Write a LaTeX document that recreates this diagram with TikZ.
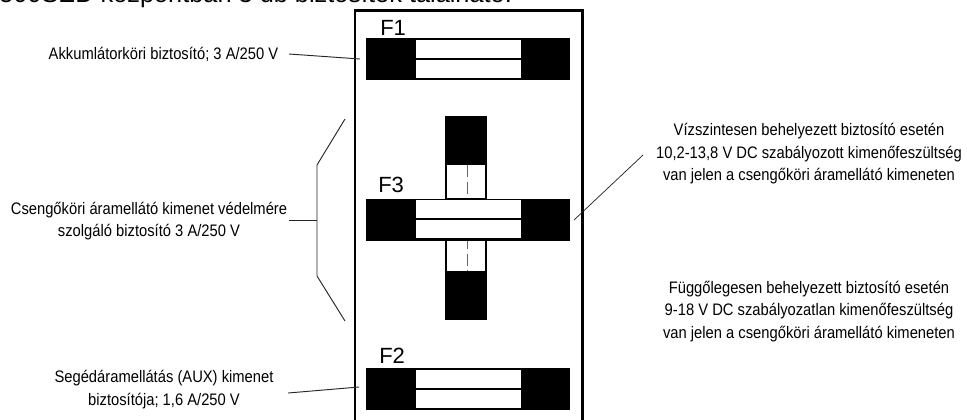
\documentclass[tikz,border=0pt]{standalone}
\usepackage{fontspec}
\setmainfont[FakeStretch=0.885]{Liberation Sans}
\newfontfamily\plainarial{Liberation Sans}
\tikzset{
  x=0.75pt,y=-0.75pt,
  blackpart/.style={fill=black,draw=none,inner sep=0pt,outer sep=0pt,minimum width=204*0.75pt,minimum height=42*0.75pt},
  uprightpart/.style={fill=black,draw=none,inner sep=0pt,outer sep=0pt,minimum width=42*0.75pt,minimum height=204*0.75pt},
  glass/.style={fill=white,draw=none,inner sep=0pt,outer sep=0pt,minimum width=105*0.75pt,minimum height=38.5*0.75pt},
  vglass/.style={fill=white,draw=none,inner sep=0pt,outer sep=0pt,minimum width=38.5*0.75pt},
  caption/.style={align=center,inner sep=0pt,font=\fontsize{12.5pt}{16.9pt}\selectfont},
  fuselabel/.style={inner sep=0pt,anchor=base west,font=\plainarial\fontsize{16.5pt}{18pt}\selectfont},
  leader/.style={draw=black!85,line width=0.7pt},
  thinleader/.style={draw=black!85,line width=0.55pt},
  wire/.style={draw=black,line width=1.2pt},
}
\begin{document}
\begin{tikzpicture}
\useasboundingbox (0,0) rectangle (967,419);
% cut-off heading
\node[inner sep=0pt,anchor=base west,font=\plainarial\fontsize{19pt}{20pt}\selectfont] (head) at (-1,2.5) {500SED központban 3 db biztosíték található.};
% housing
\draw[line width=1.9pt] (355,425) -- (355,10.5) -- (582.5,10.5) -- (582.5,425);
% F1
\node[blackpart] (f1) at (468,59) {};
\node[glass] (f1g) at (468,59) {};
\draw[wire,line width=1.5pt] (f1g.west) -- (f1g.east);
\node[fuselabel] (f1t) at (380,35) {F1};
% F3 upright
\node[uprightpart] (f3v) at (466,218) {};
\node[vglass,minimum height=33*0.75pt] (f3a) at (466,181.5) {};
\node[vglass,minimum height=30*0.75pt] (f3b) at (466,256) {};
\draw[black!60,line width=0.7pt,dash pattern=on 9pt off 3.5pt] (f3a.north) ++(1,0) -- ++(0,33);
\draw[black!60,line width=0.7pt,dash pattern=on 6pt off 4pt on 9pt off 3pt] (f3b.north) ++(1,0) -- ++(0,30);
% F3 horizontal
\node[blackpart] (f3) at (468,219.5) {};
\node[glass] (f3g) at (468,219) {};
\draw[wire,line width=0.8pt] (f3g.west) -- (f3g.east);
\node[fuselabel] (f3t) at (378,192) {F3};
% F2
\node[blackpart] (f2) at (468,389) {};
\node[glass] (f2g) at (468,389) {};
\draw[wire] (f2g.west) -- (f2g.east);
\node[fuselabel] (f2t) at (379,363) {F2};
% captions
\node[caption] (c1) at (163.5,54.5) {Akkumlátorköri biztosító; 3 A/250 V};
\node[caption] (c3) at (149,221) {Csengőköri áramellátó kimenet védelmére\\szolgáló biztosító 3 A/250 V};
\node[caption] (c2) at (164,389.5) {Segédáramellátás (AUX) kimenet\\biztosítója; 1,6 A/250 V};
\node[caption] (r1) at (809,154) {Vízszintesen behelyezett biztosító esetén\\10,2-13,8 V DC szabályozott kimenőfeszültség\\van jelen a csengőköri áramellátó kimeneten};
\node[caption] (r2) at (809,311.5) {Függőlegesen behelyezett biztosító esetén\\9-18 V DC szabályozatlan kimenőfeszültség\\van jelen a csengőköri áramellátó kimeneten};
% leaders
\coordinate (a1) at (289,54);
\coordinate (a2) at (360,59);
\draw[leader] (a1) -- (a2);
\coordinate (b1) at (288,393);
\coordinate (b2) at (359,387);
\draw[leader] (b1) -- (b2);
\coordinate (d1) at (574,220);
\coordinate (d2) at (643,155);
\draw[thinleader] (d1) -- (d2);
\coordinate (k0) at (289,220);
\coordinate (k1) at (317,220);
\coordinate (k2) at (345,119);
\coordinate (k3) at (317,165);
\coordinate (k4) at (317,276);
\coordinate (k5) at (345,321);
\draw[leader] (k0) -- (k1);
\draw[leader] (k2) -- (k3) -- (k4) -- (k5);
\end{tikzpicture}
\end{document}
